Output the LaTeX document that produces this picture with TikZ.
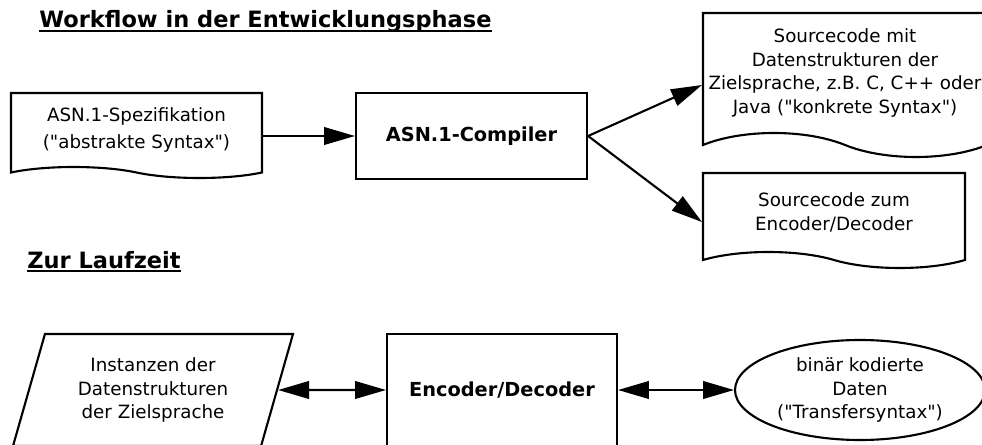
\documentclass[tikz,border=0pt]{standalone}
\usepackage{fontspec}
\setmainfont{DejaVu Sans}[Ligatures=TeXOff]
\usetikzlibrary{shapes.geometric, shapes.symbols, arrows.meta, positioning}
\newcommand{\ulin}[1]{\setbox0\hbox{#1}\rlap{\rule[-0.08cm]{\wd0}{0.045cm}}\box0}
\tikzstyle{heading} = [anchor=base west, inner sep=0pt, font=\fontsize{12.8}{15}\selectfont\bfseries]
\tikzstyle{doc} = [tape, tape bend top=none, tape bend bottom=out and in, draw=black, line width=1.2pt, inner sep=0pt, align=center, font=\fontsize{10.4}{13.6}\selectfont]
\tikzstyle{process} = [rectangle, minimum width=4.62cm, minimum height=1.72cm, draw=black, line width=1.2pt, font=\fontsize{11}{13.6}\selectfont\bfseries]
\tikzstyle{io} = [trapezium, trapezium left angle=64, trapezium right angle=116, trapezium stretches body=true, minimum width=5.6cm, minimum height=2.24cm, inner sep=0pt, draw=black, line width=1.2pt, align=center, font=\fontsize{10.4}{13.6}\selectfont]
\tikzstyle{data} = [ellipse, minimum width=5cm, minimum height=2cm, inner sep=0pt, draw=black, line width=1.2pt, align=center, font=\fontsize{10.4}{13.6}\selectfont]
\tikzstyle{arrow} = [line width=1.2pt, -{Triangle[length=17.6pt, width=10pt]}]
\tikzstyle{dblarrow} = [line width=1.2pt, {Triangle[length=17.6pt, width=10pt]}-{Triangle[length=17.6pt, width=10pt]}]
\begin{document}
\begin{tikzpicture}[node distance=7cm]
	\useasboundingbox (0,0) rectangle (19.64,-8.9);
	\clip (0,0) rectangle (19.64,-8.9);
	% Entwicklungsphase
	\node (head1) [heading] at (0.78,-0.56) {\ulin{Workflow in der Entwicklungsphase}};
	\node (spec) [doc, tape bend height=0.22cm, minimum width=5.02cm, minimum height=1.7cm, font=\fontsize{10.4}{15.3}\selectfont] at (2.73,-2.6) {ASN.1-Spezifikation\\("abstrakte Syntax")};
	\node (comp) [process, right of=spec, xshift=-0.3cm, yshift=-0.12cm] {ASN.1-Compiler};
	\node (srcA) [doc, tape bend height=0.48cm, right of=comp, xshift=0.47cm, yshift=1.26cm, minimum width=5.68cm, minimum height=2.88cm] {Sourcecode mit\\Datenstrukturen der\\Zielsprache, z.B. C, C++ oder\\Java ("konkrete Syntax")};
	\node (srcB) [doc, tape bend height=0.32cm, right of=comp, xshift=0.25cm, yshift=-1.53cm, minimum width=5.24cm, minimum height=1.9cm] {Sourcecode zum\\Encoder/Decoder};
	\draw [arrow] (spec.east |- comp.west) -- (comp.west);
	\draw [arrow] (comp.east) -- ([yshift=-0.24cm]srcA.west);
	\draw [arrow] (comp.east) -- ([yshift=-0.19cm]srcB.west);
	% Laufzeit
	\node (head2) [heading] at (0.54,-5.36) {\ulin{Zur Laufzeit}};
	\node (inst) [io] at (3.06,-7.8) {Instanzen der\\Datenstrukturen\\der Zielsprache};
	\node (codec) [process, right of=inst, xshift=-0.02cm, minimum width=4.6cm, minimum height=2.24cm] {Encoder/Decoder};
	\node (bin) [data, right of=codec, xshift=0.16cm] {binär kodierte\\Daten\\("Transfersyntax")};
	\draw [dblarrow] (inst.east) -- (codec.west);
	\draw [dblarrow] (codec.east) -- (bin.west);
\end{tikzpicture}
\end{document}
